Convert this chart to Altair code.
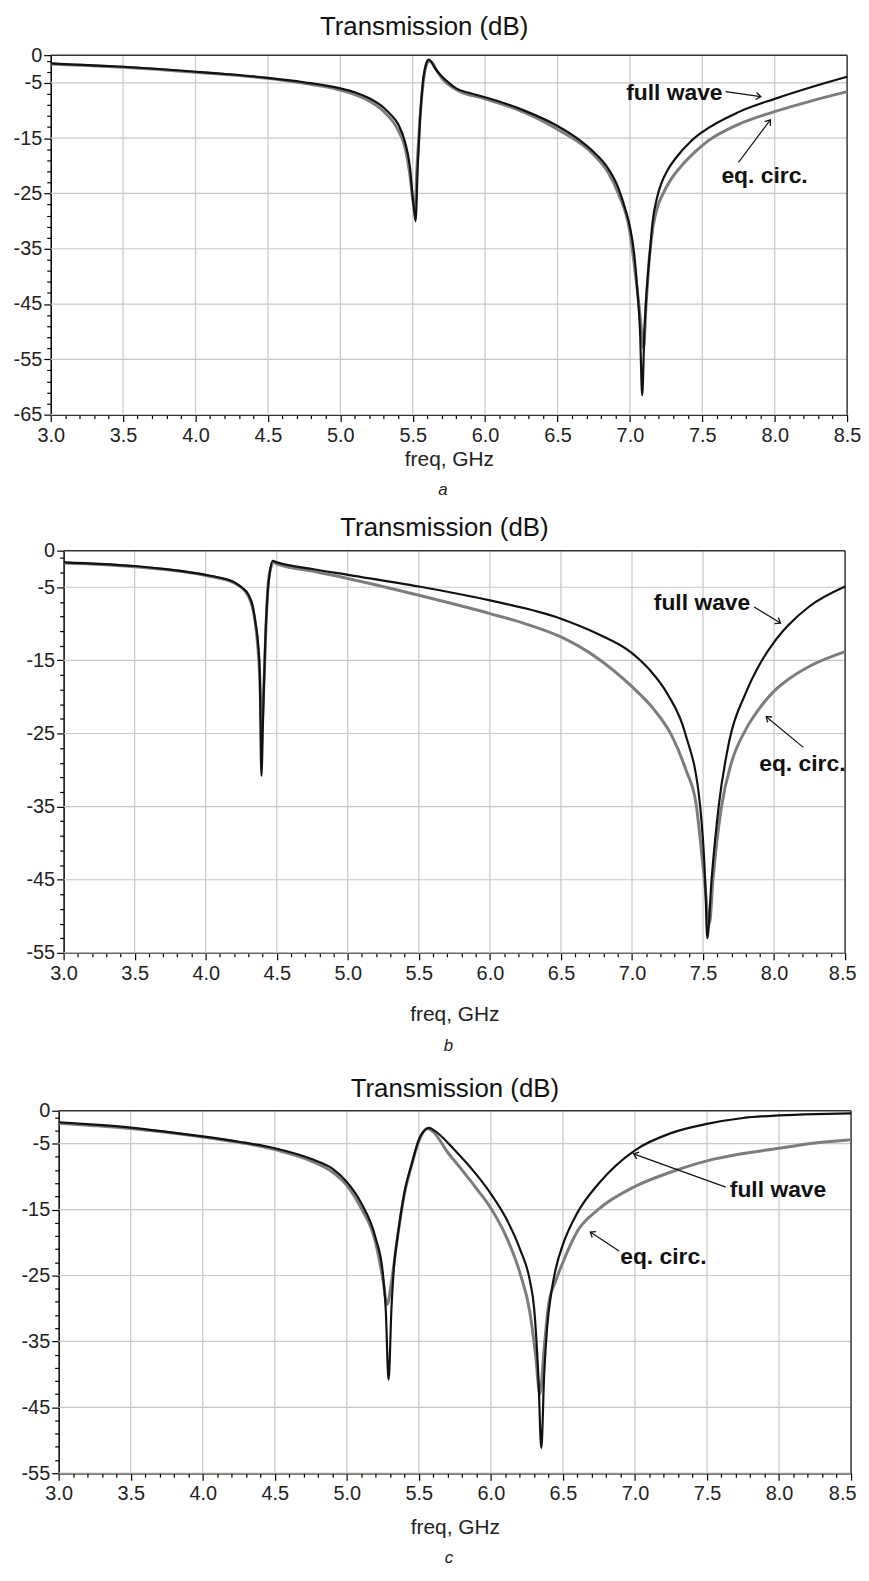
import altair as alt
import pandas as pd

FONT = "Liberation Sans"

# ---------------- tick / grid positions ----------------
X_TICKS = [round(3.0 + 0.1 * i, 1) for i in range(56)]
X_GRID = [3.5, 4.0, 4.5, 5.0, 5.5, 6.0, 6.5, 7.0, 7.5, 8.0]
X_DOMAIN = [3.0, 8.5]

# ---------------- panel a ----------------
A_FW_FREQ = [3.0, 3.25, 3.5, 3.75, 4.0, 4.25, 4.5, 4.75, 5.0, 5.1, 5.2, 5.3, 5.35, 5.4, 5.45, 5.48,
             5.505, 5.52, 5.535, 5.55, 5.57, 5.59, 5.61, 5.63, 5.65, 5.7, 5.75, 5.8, 5.9, 6.0, 6.25,
             6.5, 6.65, 6.75, 6.85, 6.92, 6.97, 7.0, 7.03, 7.05, 7.07, 7.085, 7.1, 7.11, 7.14, 7.155,
             7.19, 7.22, 7.26, 7.32, 7.42, 7.5, 7.75, 8.0, 8.25, 8.5]
A_FW_DB = [-1.5, -1.8, -2.1, -2.5, -3.0, -3.5, -4.1, -4.9, -6.0, -6.7, -7.8, -9.5, -10.8, -12.5, -16.0, -20.0,
           -27.0, -30.0, -20.0, -12.0, -5.0, -1.8, -0.8, -1.2, -2.2, -3.8, -5.0, -6.0, -6.9, -7.6, -9.8,
           -12.8, -15.3, -17.5, -20.5, -24.0, -28.0, -31.0, -36.0, -42.0, -50.0, -61.5, -50.0, -45.0, -35.0, -30.5,
           -25.5, -23.0, -20.8, -18.5, -15.6, -13.9, -10.3, -7.9, -5.8, -3.9]
A_EC_FREQ = [3.0, 3.5, 4.0, 4.5, 4.75, 5.0, 5.2, 5.3, 5.4, 5.45, 5.48, 5.5, 5.515, 5.53, 5.55, 5.57, 5.59,
             5.615, 5.64, 5.67, 5.7, 5.8, 6.0, 6.25, 6.5, 6.75, 6.85, 6.92, 7.0, 7.04, 7.07, 7.095, 7.11,
             7.13, 7.16, 7.19, 7.23, 7.28, 7.35, 7.45, 7.54, 7.75, 8.0, 8.25, 8.5]
A_EC_DB = [-1.6, -2.2, -3.1, -4.2, -5.1, -6.3, -8.3, -10.2, -13.6, -17.0, -21.5, -26.0, -28.0, -20.0, -11.5,
           -5.5, -2.2, -1.1, -1.6, -2.9, -4.1, -6.2, -7.9, -10.1, -13.4, -18.0, -21.2, -25.0, -32.0, -40.0,
           -47.0, -53.0, -46.0, -38.0, -31.0, -27.5, -25.0, -22.6, -20.2, -17.5, -15.5, -12.5, -10.2, -8.3, -6.6]

# ---------------- panel b ----------------
B_FW_FREQ = [3.0, 3.25, 3.5, 3.75, 4.0, 4.1, 4.2, 4.25, 4.3, 4.33, 4.35, 4.37, 4.38, 4.392, 4.405, 4.42,
             4.435, 4.45, 4.47, 4.5, 4.75, 5.0, 5.5, 6.0, 6.5, 6.75, 7.0, 7.12, 7.25, 7.375, 7.48, 7.515,
             7.53, 7.56, 7.61, 7.685, 7.8, 7.9, 8.0, 8.1, 8.25, 8.5]
B_FW_DB = [-1.6, -1.8, -2.1, -2.6, -3.3, -3.7, -4.3, -5.0, -6.0, -7.5, -9.8, -13.0, -16.5, -30.8, -22.0, -12.0,
           -6.0, -3.2, -1.4, -1.6, -2.5, -3.3, -4.9, -6.8, -9.3, -11.3, -14.0, -16.2, -19.6, -25.0, -35.0, -45.0,
           -53.0, -45.0, -35.0, -26.0, -19.5, -15.5, -12.5, -10.2, -7.6, -4.9]
B_EC_FREQ = [3.0, 3.5, 4.0, 4.2, 4.3, 4.35, 4.38, 4.395, 4.41, 4.425, 4.44, 4.46, 4.48, 4.5, 4.75, 5.0,
             5.5, 6.0, 6.25, 6.5, 6.75, 7.0, 7.15, 7.28, 7.38, 7.45, 7.51, 7.545, 7.57, 7.63, 7.7, 7.8,
             7.9, 8.0, 8.1, 8.25, 8.5]
B_EC_DB = [-1.7, -2.2, -3.4, -4.4, -6.2, -10.0, -17.0, -24.0, -18.0, -10.0, -4.5, -2.2, -1.6, -1.8, -2.8, -3.8,
           -6.1, -8.6, -10.0, -11.8, -14.6, -18.6, -21.6, -25.3, -30.0, -34.5, -45.0, -51.0, -45.0, -35.0, -29.0,
           -24.5, -21.5, -19.2, -17.6, -15.8, -13.8]

# ---------------- panel c ----------------
C_FW_FREQ = [3.0, 3.25, 3.5, 3.75, 4.0, 4.25, 4.5, 4.75, 4.9, 5.0, 5.1, 5.2, 5.25, 5.27, 5.29, 5.31, 5.33,
             5.35, 5.4, 5.45, 5.5, 5.55, 5.57, 5.6, 5.75, 5.9, 6.0, 6.1, 6.2, 6.27, 6.3, 6.33, 6.35, 6.37,
             6.39, 6.42, 6.45, 6.5, 6.6, 6.75, 7.0, 7.25, 7.5, 7.75, 8.0, 8.25, 8.5]
C_FW_DB = [-1.75, -2.1, -2.55, -3.2, -3.9, -4.7, -5.7, -7.3, -8.8, -10.8, -14.0, -19.3, -24.6, -30.0, -40.8,
           -30.0, -23.0, -19.5, -12.4, -8.1, -4.4, -2.8, -2.6, -2.9, -6.0, -9.7, -12.6, -16.1, -20.9, -25.7,
           -29.9, -40.5, -51.2, -40.0, -33.0, -27.5, -24.0, -20.3, -15.5, -11.0, -6.0, -3.4, -2.0, -1.1, -0.7,
           -0.5, -0.4]
C_EC_FREQ = [3.0, 3.5, 4.0, 4.5, 4.75, 4.9, 5.0, 5.1, 5.2, 5.25, 5.28, 5.31, 5.35, 5.4, 5.45, 5.5, 5.56,
             5.6, 5.7, 5.8, 5.9, 6.0, 6.1, 6.2, 6.27, 6.31, 6.34, 6.37, 6.4, 6.45, 6.5, 6.6, 6.75, 7.0, 7.25,
             7.5, 7.75, 8.0, 8.25, 8.5]
C_EC_DB = [-1.9, -2.7, -4.0, -5.9, -7.6, -9.3, -11.3, -14.8, -20.0, -25.5, -29.4, -26.0, -19.5, -12.6, -8.3,
           -4.6, -2.7, -3.2, -6.3, -9.0, -11.8, -14.8, -18.8, -24.5, -30.5, -37.0, -43.0, -36.0, -29.5, -25.8,
           -23.0, -18.3, -14.9, -11.5, -9.3, -7.6, -6.5, -5.7, -4.9, -4.4]

# ---------------- annotations (data coordinates) ----------------
LABELS = ["full wave", "eq. circ."]
A_LABEL_FREQ = [7.307, 7.93]
A_LABEL_DB = [-6.8, -21.9]
A_ARROW_FROM_FREQ = [7.66, 7.75]
A_ARROW_FROM_DB = [-6.6, -19.4]
A_ARROW_TO_FREQ = [7.904, 7.97]
A_ARROW_TO_DB = [-7.5, -11.7]
A_ARROW_ANGLE = [7.5, 306.7]

B_LABEL_FREQ = [7.493, 8.199]
B_LABEL_DB = [-7.2, -29.2]
B_ARROW_FROM_FREQ = [7.86, 8.206]
B_ARROW_FROM_DB = [-7.7, -26.9]
B_ARROW_TO_FREQ = [8.045, 7.945]
B_ARROW_TO_DB = [-9.9, -22.7]
B_ARROW_ANGLE = [31.8, 220.0]

C_LABEL_FREQ = [7.993, 7.197]
C_LABEL_DB = [-12.1, -22.15]
C_ARROW_FROM_FREQ = [7.63, 6.89]
C_ARROW_FROM_DB = [-11.6, -21.3]
C_ARROW_TO_FREQ = [6.99, 6.69]
C_ARROW_TO_DB = [-6.55, -18.4]
C_ARROW_ANGLE = [199.7, 213.3]

TITLE = "Transmission (dB)"
ARROW_HEAD = "M-1,-0.75L0,0L-1,0.75"

X_MAJOR_TEST = "abs(datum.value * 2 - round(datum.value * 2)) < 0.001"
Y_MAJOR_TEST = "datum.value == 0 || (datum.value + 5) % 10 == 0"
X_LABEL_EXPR = X_MAJOR_TEST + " ? format(datum.value, '.1f') : ''"
Y_LABEL_EXPR = "(" + Y_MAJOR_TEST + ") ? (datum.value < 0 ? '-' : '') + format(abs(datum.value), 'd') : ''"

PANEL_W = 806   # common group width; each plot frame sits inside it via its x range


def make_panel(fw_f, fw_db, ec_f, ec_db, lab_f, lab_db, af_f, af_db, at_f, at_db, ang,
               ymin, x0, x1, H, top_b, bottom_b, title_y, title_dx, xtitle_pad,
               last_label_shift, caption, cap_y):
    xs = alt.Scale(domain=X_DOMAIN, range=[x0, x1], nice=False, zero=False)
    ys = alt.Scale(domain=[ymin, 0], nice=False, zero=False)
    y_ticks = [0] + list(range(-1, ymin - 1, -2))
    y_grid = list(range(-5, ymin - 1, -10))
    cx = (x0 + x1) / 2

    xaxis = alt.Axis(values=X_TICKS, labelExpr=X_LABEL_EXPR, title="freq, GHz",
                     titleFontSize=21, titleFontWeight="normal", titleColor="#222",
                     titlePadding=xtitle_pad, labelPadding=4, labelFontSize=20,
                     tickSize={"condition": {"test": X_MAJOR_TEST, "value": 7}, "value": 4},
                     labelOffset={"condition": {"test": "datum.value > 8.45", "value": last_label_shift},
                                  "value": 0},
                     labelColor="#222", grid=False, domainColor="black", domainWidth=1.5,
                     tickColor="black", tickWidth=1.2, labelOverlap=False, labelFlush=False)
    yaxis = alt.Axis(values=y_ticks, labelExpr=Y_LABEL_EXPR, title=None, offset=-x0,
                     tickSize={"condition": {"test": Y_MAJOR_TEST, "value": 7}, "value": 4},
                     labelPadding=2, labelFontSize=20, labelColor="#222", grid=False,
                     domainColor="black", domainWidth=1.5, tickColor="black", tickWidth=1.2,
                     labelOverlap=False, labelFlush=False)

    def X(field):
        return alt.X(field, scale=xs, axis=xaxis)

    def Y(field):
        return alt.Y(field, scale=ys, axis=yaxis)

    hgrid = alt.Chart(pd.DataFrame({"g": y_grid, "a": X_DOMAIN[0], "b": X_DOMAIN[1]})).mark_rule(
        color="#c8c8c8", strokeWidth=1.2).encode(y=Y("g:Q"), x=X("a:Q"), x2="b:Q")
    vgrid = alt.Chart(pd.DataFrame({"g": X_GRID})).mark_rule(color="#c8c8c8", strokeWidth=1.2).encode(
        x=X("g:Q"))

    frame_top = alt.Chart(pd.DataFrame({"a": [X_DOMAIN[0]], "b": [X_DOMAIN[1]], "y": [0]})).mark_rule(
        color="#333", strokeWidth=1.5).encode(x=X("a:Q"), x2="b:Q", y=Y("y:Q"))
    frame_right = alt.Chart(pd.DataFrame({"x": [X_DOMAIN[1]], "lo": [ymin], "hi": [0]})).mark_rule(
        color="#333", strokeWidth=1.5).encode(x=X("x:Q"), y=Y("lo:Q"), y2="hi:Q")

    ec = alt.Chart(pd.DataFrame({"freq": ec_f, "db": ec_db})).mark_line(
        color="#7d7d7d", strokeWidth=3, interpolate="monotone", clip=True).encode(
        x=X("freq:Q"), y=Y("db:Q"))
    fw = alt.Chart(pd.DataFrame({"freq": fw_f, "db": fw_db})).mark_line(
        color="#111111", strokeWidth=2.2, interpolate="monotone", clip=True).encode(
        x=X("freq:Q"), y=Y("db:Q"))

    lab = alt.Chart(pd.DataFrame({"f": lab_f, "d": lab_db, "t": LABELS})).mark_text(
        fontWeight="bold", fontSize=23, color="#111", align="center", baseline="middle").encode(
        x=X("f:Q"), y=Y("d:Q"), text="t:N")
    arrows_df = pd.DataFrame({"f1": af_f, "d1": af_db, "f2": at_f, "d2": at_db, "ang": ang})
    shafts = alt.Chart(arrows_df).mark_rule(color="#111", strokeWidth=1.2).encode(
        x=X("f1:Q"), y=Y("d1:Q"), x2="f2:Q", y2="d2:Q")
    heads = alt.Chart(arrows_df).mark_point(shape=ARROW_HEAD, filled=False, color="#111",
                                            strokeWidth=1.3, size=90, opacity=1).encode(
        x=X("f2:Q"), y=Y("d2:Q"), angle=alt.Angle("ang:Q", scale=None))

    ttl = alt.Chart(pd.DataFrame({"t": [TITLE]})).mark_text(
        fontSize=26, color="#111", align="center", baseline="middle").encode(
        text="t:N", x=alt.value(cx + title_dx), y=alt.value(title_y))
    cap = alt.Chart(pd.DataFrame({"t": [caption]})).mark_text(
        fontSize=17, fontStyle="italic", color="#222", align="center", baseline="middle").encode(
        text="t:N", x=alt.value(cx - 6), y=alt.value(cap_y))

    # invisible edge that fixes the vertical extent and left edge of each panel in the stack
    bound = alt.Chart(pd.DataFrame({"z": [0]})).mark_rule(strokeOpacity=0, strokeWidth=0.01).encode(
        x=alt.value(-43), y=alt.value(top_b), y2=alt.value(bottom_b))

    return alt.layer(hgrid, vgrid, frame_top, frame_right, ec, fw, shafts, heads, lab, ttl, cap,
                     bound).properties(width=PANEL_W, height=H)


pa = make_panel(A_FW_FREQ, A_FW_DB, A_EC_FREQ, A_EC_DB, A_LABEL_FREQ, A_LABEL_DB,
                A_ARROW_FROM_FREQ, A_ARROW_FROM_DB, A_ARROW_TO_FREQ, A_ARROW_TO_DB, A_ARROW_ANGLE,
                -65, 0, 802, 362, -42, 455, -28, -25, 3, 0, "a", 438)
pb = make_panel(B_FW_FREQ, B_FW_DB, B_EC_FREQ, B_EC_DB, B_LABEL_FREQ, B_LABEL_DB,
                B_ARROW_FROM_FREQ, B_ARROW_FROM_DB, B_ARROW_TO_FREQ, B_ARROW_TO_DB, B_ARROW_ANGLE,
                -55, 13, 800, 405, -44, 513, -23, -10, 20, -3, "b", 499)
pc = make_panel(C_FW_FREQ, C_FW_DB, C_EC_FREQ, C_EC_DB, C_LABEL_FREQ, C_LABEL_DB,
                C_ARROW_FROM_FREQ, C_ARROW_FROM_DB, C_ARROW_TO_FREQ, C_ARROW_TO_DB, C_ARROW_ANGLE,
                -55, 8, 806, 365, -51, 458, -21.5, 0, 13, -9, "c", 450)

chart = alt.vconcat(pa, pb, pc, spacing=0).properties(padding=0).configure(
    font=FONT).configure_view(stroke=None)

chart.save("out.html", embed_options={"renderer": "svg", "actions": False})
